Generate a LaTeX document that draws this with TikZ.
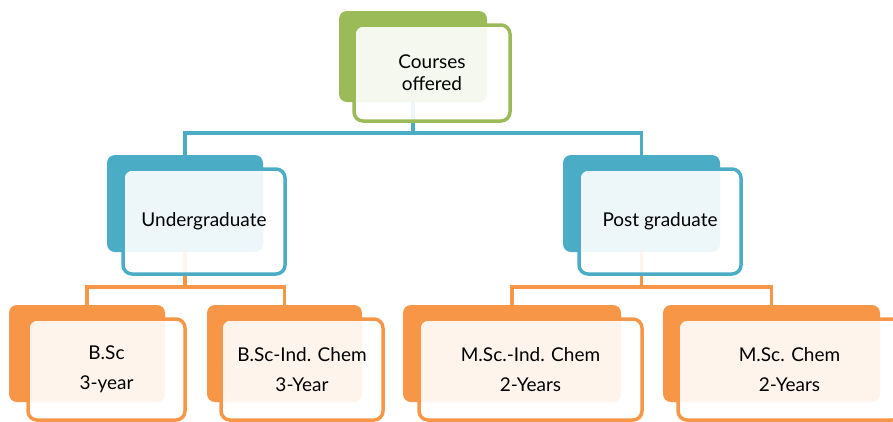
\documentclass[tikz,border=0pt]{standalone}
\usepackage{fontspec}
\setmainfont{Lato}
\definecolor{coursegreen}{HTML}{9BBB59}
\definecolor{levelblue}{HTML}{4BACC6}
\definecolor{progorange}{HTML}{F79646}

\begin{document}
\begin{tikzpicture}[x=1pt, y=-1pt,
		back/.style={rectangle, rounded corners=8pt, fill=#1, draw=none},
		front/.style={rectangle, rounded corners=9pt, draw=#1, line width=3.5pt, fill=white, fill opacity=0.9, text opacity=1, align=center, font=\fontsize{19}{22}\selectfont},
		link/.style={draw=#1, line width=3.5pt}]
		
		\clip (0,0) rectangle (893,421);
		
		% back boxes
		\node[back=coursegreen, minimum width=148pt, minimum height=91pt] (cbk) at (413,56.5) {};
		\node[back=levelblue, minimum width=156pt, minimum height=97pt] (ugbk) at (185,203.5) {};
		\node[back=levelblue, minimum width=157pt, minimum height=97pt] (pgbk) at (641.5,203.5) {};
		\node[back=progorange, minimum width=156pt, minimum height=97pt] (bscbk) at (87,353.5) {};
		\node[back=progorange, minimum width=155pt, minimum height=97pt] (bicbk) at (284.5,353.5) {};
		\node[back=progorange, minimum width=218pt, minimum height=97pt] (micbk) at (512,353.5) {};
		\node[back=progorange, minimum width=217pt, minimum height=97pt] (mcbk) at (771.5,353.5) {};
		
		% connectors
		\draw[link=levelblue] (cbk.south) -- (cbk.south |- 0,133) -| (ugbk.north);
		\draw[link=levelblue] (cbk.south) -- (cbk.south |- 0,133) -| (pgbk.north);
		\draw[link=progorange] (ugbk.south) -- (ugbk.south |- 0,287) -| (bscbk.north);
		\draw[link=progorange] (ugbk.south) -- (ugbk.south |- 0,287) -| (bicbk.north);
		\draw[link=progorange] (pgbk.south) -- (pgbk.south |- 0,287) -| (micbk.north);
		\draw[link=progorange] (pgbk.south) -- (pgbk.south |- 0,287) -| (mcbk.north);
		
		% front boxes
		\node[front=coursegreen, minimum width=156pt, minimum height=96pt] (courses) at (432,73) {Courses\\offered};
		\node[front=levelblue, minimum width=162pt, minimum height=105pt] (ug) at (204,221.5) {Undergraduate};
		\node[front=levelblue, minimum width=162pt, minimum height=105pt] (pg) at (660,221.5) {Post graduate};
		\node[front=progorange, minimum width=157pt, minimum height=101pt] (bsc) at (106.5,369.5) {B.Sc\\[8pt]3-year};
		\node[front=progorange, minimum width=162pt, minimum height=101pt] (bic) at (302,369.5) {B.Sc-Ind. Chem\\[8pt]3-Year};
		\node[front=progorange, minimum width=223pt, minimum height=101pt] (mic) at (530.5,369.5) {M.Sc.-Ind. Chem\\[8pt]2-Years};
		\node[front=progorange, minimum width=223pt, minimum height=101pt] (mc) at (789.5,369.5) {M.Sc. Chem\\[8pt]2-Years};
		
	\end{tikzpicture}
\end{document}
